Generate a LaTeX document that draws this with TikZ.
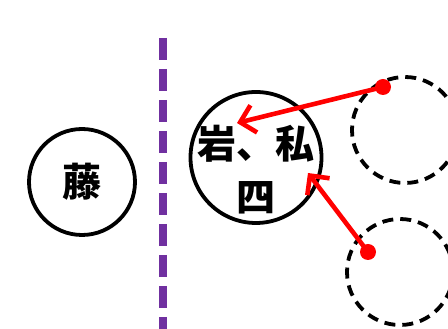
\documentclass[tikz,border=0pt]{standalone}
\usepackage{fontspec}
\newfontfamily\cjk{Noto Sans CJK JP}
\usepackage{tikz}
\usetikzlibrary{arrows.meta,positioning}
\definecolor{violetline}{HTML}{7030A0}
\definecolor{arrowred}{HTML}{FF0000}
\tikzset{person/.style={circle,draw=black,line width=3.8pt,inner sep=0pt}}
\tikzset{ghost/.style={person,dash pattern=on 11pt off 7pt}}
\tikzset{nametext/.style={font=\cjk\bfseries\fontsize{39}{53}\selectfont,align=center,inner sep=0pt}}
\tikzset{reddot/.style={circle,fill=arrowred,inner sep=0pt,minimum size=16pt}}
\tikzset{move/.style={-{Straight Barb[length=14pt,width=28pt]},draw=arrowred,line width=4.6pt}}

\begin{document}
\begin{tikzpicture}[x=1pt,y=1pt]
\useasboundingbox (0,0) rectangle (448,329);
%
{
\node (fuji) [person,minimum size=106pt] at (82,147) {};
\node (fujitext) [nametext] at (fuji.center) {藤};
}
%
{
\coordinate (wallTop) at (163,291);
\coordinate (wallBot) at (163,0);
\draw[violetline,line width=8pt,dash pattern=on 22pt off 9pt] (wallTop) -- (wallBot);
}
%
{
\node (iwa) [person,minimum size=131pt] at (256,171.5) {};
\node (iwatext) [nametext] at (256,159) {岩、私\\四};
}
%
{
\node (old1) [ghost,minimum size=106pt] at (405,199) {};
\node (old2) [ghost,minimum size=106pt] at (400,57) {};
\node (d1) [reddot] at (383,242) {};
\node (d2) [reddot] at (368,77) {};
\coordinate (t1) at (237,206);
\coordinate (t2) at (308,156);
\draw[move] (d1.center) -- (t1);
\draw[move] (d2.center) -- (t2);
}
\end{tikzpicture}
\end{document}
